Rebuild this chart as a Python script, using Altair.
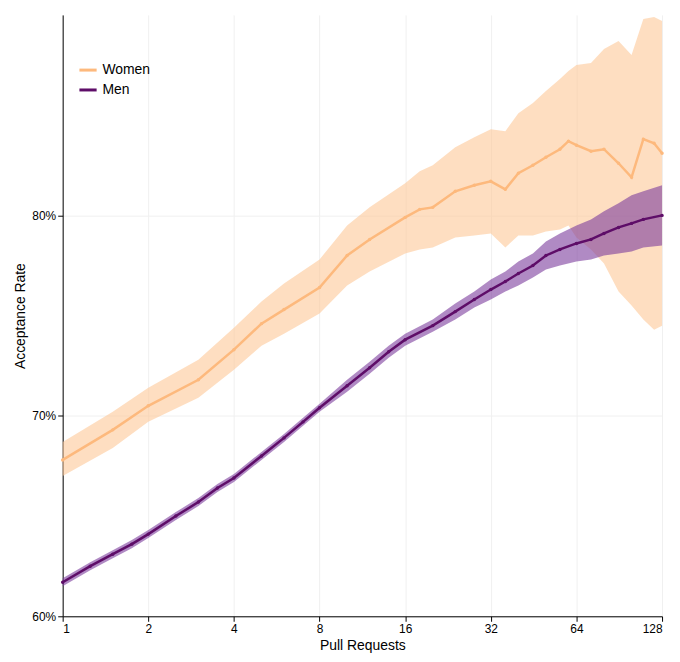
import pandas as pd
import altair as alt

# Pull request counts (x) and acceptance rates
women_x = [1, 1.5, 2, 3, 4, 5, 6, 8, 10, 12, 16, 18, 20, 24, 28, 32, 36, 40, 45, 50, 56, 60, 64, 72, 80, 90, 100, 110, 120, 128]
women_y = [0.678, 0.693, 0.705, 0.718, 0.733, 0.746, 0.753, 0.764, 0.780, 0.788, 0.799, 0.803, 0.804, 0.812, 0.815, 0.817, 0.813, 0.821, 0.825, 0.829, 0.833, 0.837, 0.835, 0.832, 0.833, 0.826, 0.819, 0.838, 0.836, 0.831]
women_lo = [0.670, 0.684, 0.697, 0.709, 0.723, 0.735, 0.741, 0.751, 0.765, 0.772, 0.781, 0.783, 0.784, 0.789, 0.790, 0.791, 0.784, 0.790, 0.790, 0.792, 0.793, 0.795, 0.789, 0.783, 0.776, 0.762, 0.755, 0.748, 0.743, 0.745]
women_hi = [0.687, 0.702, 0.714, 0.728, 0.744, 0.757, 0.766, 0.778, 0.795, 0.804, 0.816, 0.822, 0.825, 0.834, 0.839, 0.843, 0.842, 0.851, 0.856, 0.862, 0.868, 0.872, 0.875, 0.876, 0.883, 0.887, 0.880, 0.898, 0.899, 0.897]

men_x = [1, 1.25, 1.5, 1.75, 2, 2.5, 3, 3.5, 4, 5, 6, 7, 8, 10, 12, 14, 16, 20, 24, 28, 32, 36, 40, 45, 50, 56, 64, 72, 80, 90, 100, 110, 128]
men_y = [0.617, 0.625, 0.631, 0.636, 0.641, 0.650, 0.657, 0.664, 0.669, 0.680, 0.689, 0.697, 0.704, 0.715, 0.724, 0.732, 0.738, 0.745, 0.752, 0.758, 0.763, 0.767, 0.771, 0.775, 0.780, 0.783, 0.786, 0.788, 0.791, 0.794, 0.796, 0.798, 0.800]
men_lo = [0.615, 0.623, 0.629, 0.634, 0.639, 0.648, 0.655, 0.662, 0.667, 0.678, 0.687, 0.695, 0.702, 0.712, 0.721, 0.729, 0.735, 0.742, 0.748, 0.754, 0.758, 0.762, 0.765, 0.769, 0.773, 0.775, 0.777, 0.778, 0.780, 0.781, 0.782, 0.784, 0.785]
men_hi = [0.619, 0.627, 0.633, 0.638, 0.643, 0.652, 0.659, 0.666, 0.671, 0.682, 0.691, 0.699, 0.706, 0.718, 0.727, 0.735, 0.741, 0.748, 0.756, 0.762, 0.768, 0.772, 0.777, 0.781, 0.787, 0.791, 0.795, 0.798, 0.802, 0.806, 0.810, 0.812, 0.815]

women = pd.DataFrame({'x': women_x, 'y': women_y, 'lo': women_lo, 'hi': women_hi, 'gender': 'Women'})
men = pd.DataFrame({'x': men_x, 'y': men_y, 'lo': men_lo, 'hi': men_hi, 'gender': 'Men'})
data = pd.concat([women, men])

colors = alt.Scale(domain=['Women', 'Men'], range=['#fdb97d', '#5e0d68'])
band_colors = alt.Scale(domain=['Women', 'Men'], range=['#fdc898', '#7c3c9c'])
yscale = alt.Scale(domain=[0.6, 0.9], zero=False, nice=False)

x = alt.X('x:Q', scale=alt.Scale(type='log', base=2, domain=[1, 128]),
          axis=alt.Axis(title='Pull Requests', values=[1, 2, 4, 8, 16, 32, 64, 128], format='d',
                        grid=True, gridColor='#f0f0f0', domainColor='black', tickColor='black'))
yaxis = alt.Axis(title='Acceptance Rate', values=[0.6, 0.7, 0.8], format='.0%',
                 grid=True, gridColor='#f0f0f0', domainColor='black', tickColor='black')

base = alt.Chart(data)

bands = base.mark_area(opacity=0.6, stroke=None).encode(
    x=x,
    y=alt.Y('lo:Q', scale=yscale, axis=yaxis),
    y2='hi:Q',
    fill=alt.Fill('gender:N', scale=band_colors, legend=None),
    order=alt.Order('gender:N', sort='descending')
)

lines = base.mark_line(strokeWidth=2.5, point=alt.OverlayMarkDef(size=12, filled=True)).encode(
    x=x,
    y=alt.Y('y:Q', scale=yscale, axis=yaxis),
    color=alt.Color('gender:N', scale=colors,
                    legend=alt.Legend(title=None, orient='none', legendX=15, legendY=45,
                                      labelFontSize=14, symbolType='stroke', symbolStrokeWidth=3,
                                      symbolSize=300))
)

chart = alt.layer(bands, lines).resolve_scale(color='independent', fill='independent').properties(
    width=603, height=605
).configure_view(stroke=None).configure_axis(
    labelFont='Liberation Sans', titleFont='Liberation Sans',
    labelFontSize=12, titleFontSize=14, titleFontWeight='normal', labelColor='black', titleColor='black'
).configure_legend(labelFont='Liberation Sans')

chart.save("out.html", embed_options={"renderer": "svg", "actions": False})
